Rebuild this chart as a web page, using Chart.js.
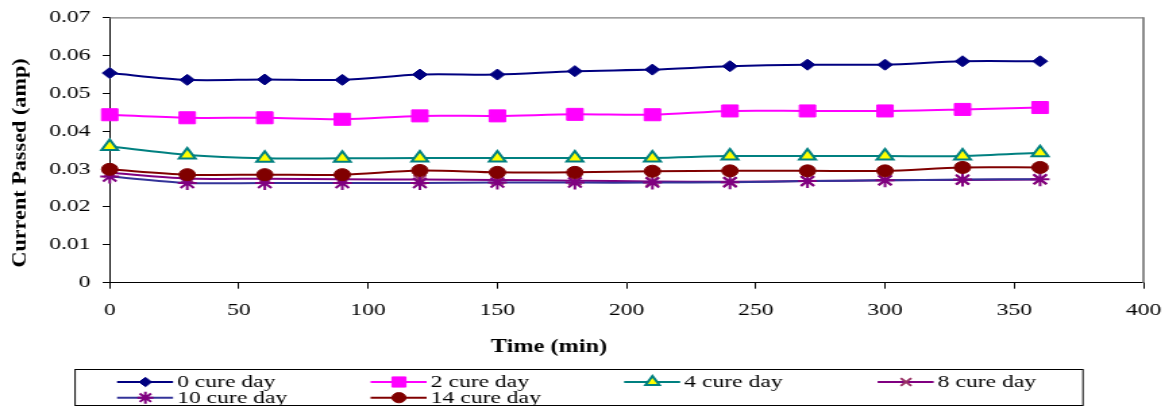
<!DOCTYPE html>
<html>
<head>
<meta charset="utf-8">
<script src="https://cdn.jsdelivr.net/npm/chart.js@4/dist/chart.umd.min.js"></script>
<style>
  html, body { margin: 0; padding: 0; background: #fff; overflow: hidden; }
  #wrap { width: 866px; height: 410px; transform: scaleX(1.35); transform-origin: 0 0; }
  #c { display: block; width: 866px; height: 410px; }
</style>
</head>
<body>
<div id="wrap"><canvas id="c" width="866" height="410"></canvas></div>
<script>
// ---- data ----
const times = [0, 30, 60, 90, 120, 150, 180, 210, 240, 270, 300, 330, 360];
const seriesLabels = ['0 cure day', '2 cure day', '4 cure day', '8 cure day', '10 cure day', '14 cure day'];
const day0  = [0.0553, 0.0535, 0.0536, 0.0535, 0.0549, 0.0549, 0.0558, 0.0562, 0.0571, 0.0575, 0.0575, 0.0584, 0.0584];
const day2  = [0.0443, 0.0435, 0.0435, 0.0431, 0.0440, 0.0440, 0.0444, 0.0443, 0.0453, 0.0453, 0.0453, 0.0457, 0.0462];
const day4  = [0.0359, 0.0337, 0.0328, 0.0328, 0.0329, 0.0329, 0.0329, 0.0329, 0.0334, 0.0334, 0.0334, 0.0334, 0.0343];
const day8  = [0.0290, 0.0275, 0.0274, 0.0273, 0.0272, 0.0271, 0.0269, 0.0267, 0.0266, 0.0268, 0.0270, 0.0271, 0.0272];
const day10 = [0.0280, 0.0263, 0.0263, 0.0263, 0.0263, 0.0264, 0.0264, 0.0264, 0.0265, 0.0268, 0.0270, 0.0272, 0.0273];
const day14 = [0.0299, 0.0285, 0.0285, 0.0285, 0.0296, 0.0291, 0.0291, 0.0294, 0.0295, 0.0295, 0.0295, 0.0304, 0.0304];
const xTickValues = [0, 50, 100, 150, 200, 250, 300, 350, 400];
const yTickValues = [0, 0.01, 0.02, 0.03, 0.04, 0.05, 0.06, 0.07];
const xTitle = 'Time (min)';
const yTitle = 'Current Passed (amp)';

const allSeries = [day0, day2, day4, day8, day10, day14];
const styles = [
  { line: '#000080', style: 'rectRot',  r: 5.5, bg: '#000080', bc: '#000080', bw: 1 },
  { line: '#FF00FF', style: 'rect',     r: 8.5, bg: '#FF00FF', bc: '#FF00FF', bw: 1 },
  { line: '#008080', style: 'triangle', r: 7,   bg: '#FFFF00', bc: '#008080', bw: 2 },
  { line: '#800080', style: 'crossRot', r: 6.5, bg: '#800080', bc: '#993366', bw: 2 },
  { line: '#333399', style: 'star',     r: 7,   bg: '#800080', bc: '#800080', bw: 2 },
  { line: '#800000', style: 'circle',   r: 6,   bg: '#800000', bc: '#800000', bw: 1 }
];

const datasets = allSeries.map((vals, i) => ({
  label: seriesLabels[i],
  data: times.map((t, k) => ({ x: t, y: vals[k] })),
  borderColor: styles[i].line,
  borderWidth: 2,
  backgroundColor: styles[i].bg,
  pointStyle: styles[i].style,
  pointRadius: styles[i].r,
  pointHoverRadius: styles[i].r,
  pointBackgroundColor: styles[i].bg,
  pointBorderColor: styles[i].bc,
  pointBorderWidth: styles[i].bw,
  tension: 0.3,
  fill: false,
  clip: false,
  order: -i
}));

const FONT = '"Liberation Serif", "Times New Roman", serif';

const framePlugin = {
  id: 'frame',
  beforeDatasetsDraw(chart) {
    const { ctx, chartArea: a } = chart;
    ctx.save();
    ctx.strokeStyle = '#808080';
    ctx.lineWidth = 1.2;
    ctx.beginPath();
    ctx.moveTo(a.left, a.top + 0.5);
    ctx.lineTo(a.right, a.top + 0.5);
    ctx.stroke();
    ctx.lineWidth = 1.8;
    ctx.beginPath();
    ctx.moveTo(a.right, a.top);
    ctx.lineTo(a.right, a.bottom);
    ctx.stroke();
    ctx.restore();
  }
};

const titlesPlugin = {
  id: 'axisTitles',
  afterDraw(chart) {
    const ctx = chart.ctx;
    ctx.save();
    ctx.fillStyle = '#000';
    ctx.font = 'bold 18px ' + FONT;
    ctx.textAlign = 'center';
    ctx.textBaseline = 'middle';
    ctx.fillText(xTitle, 406.7, 347);
    ctx.restore();

    ctx.save();
    ctx.fillStyle = '#000';
    ctx.translate(15.4, 163);
    ctx.rotate(-Math.PI / 2);
    ctx.scale(1.48, 1);
    ctx.font = 'bold 15px ' + FONT;
    ctx.textAlign = 'center';
    ctx.textBaseline = 'middle';
    ctx.fillText(yTitle, 0, 0);
    ctx.restore();
  }
};

const legendPlugin = {
  id: 'boxLegend',
  afterDraw(chart) {
    const ctx = chart.ctx;
    const box = { l: 55.6, t: 369, r: 802.2, b: 405 };
    ctx.save();
    ctx.strokeStyle = '#000';
    ctx.lineWidth = 1;
    ctx.strokeRect(box.l, box.t + 0.5, box.r - box.l, box.b - box.t);
    ctx.beginPath();
    ctx.rect(box.l, box.t, box.r - box.l, box.b - box.t);
    ctx.clip();
    chart.data.datasets.forEach((ds, i) => {
      const col = i % 4, row = Math.floor(i / 4);
      const x0 = 86.7 + col * 187.8;
      const ly = row === 0 ? 382 : 397.7;
      ctx.strokeStyle = ds.borderColor;
      ctx.lineWidth = 2;
      ctx.beginPath();
      ctx.moveTo(x0, ly);
      ctx.lineTo(x0 + 41.5, ly);
      ctx.stroke();
      ctx.fillStyle = ds.pointBackgroundColor;
      ctx.strokeStyle = ds.pointBorderColor;
      ctx.lineWidth = ds.pointBorderWidth;
      Chart.helpers.drawPoint(ctx, {
        pointStyle: ds.pointStyle, rotation: 0,
        radius: ds.pointRadius * 0.85, borderWidth: ds.pointBorderWidth
      }, x0 + 21, ly);
      ctx.fillStyle = '#000';
      ctx.font = '17.5px ' + FONT;
      ctx.textAlign = 'left';
      ctx.textBaseline = 'alphabetic';
      ctx.fillText(ds.label, x0 + 44.5, ly + 4.8);
    });
    ctx.restore();
  }
};

new Chart(document.getElementById('c'), {
  type: 'line',
  data: { datasets },
  options: {
    responsive: false,
    devicePixelRatio: 1,
    animation: false,
    layout: { padding: { top: 17.3, right: 19, left: 0, bottom: 0 } },
    plugins: { legend: { display: false }, tooltip: { enabled: false }, title: { display: false } },
    scales: {
      x: {
        type: 'linear',
        min: 0, max: 400,
        afterBuildTicks(scale) { scale.ticks = xTickValues.map(v => ({ value: v })); },
        afterFit(scale) { scale.height = 127.3; scale.paddingLeft = 0; scale.paddingRight = 0; },
        ticks: {
          color: '#000', font: { family: FONT, size: 17.5 }, padding: 11,
          maxRotation: 0, autoSkip: false,
          callback: v => String(v)
        },
        grid: { display: true, drawOnChartArea: false, drawTicks: true, tickLength: 6, tickColor: '#000', color: '#000' },
        border: { display: true, color: '#000', width: 1 }
      },
      y: {
        type: 'linear',
        min: 0, max: 0.07,
        afterBuildTicks(scale) { scale.ticks = yTickValues.map(v => ({ value: v })); },
        afterFit(scale) { scale.width = 81.26; scale.paddingTop = 0; scale.paddingBottom = 0; },
        ticks: {
          color: '#000', font: { family: FONT, size: 17.5 }, padding: 9,
          autoSkip: false,
          callback: v => (v === 0 ? '0' : v.toFixed(2))
        },
        grid: { display: true, drawOnChartArea: false, drawTicks: true, tickLength: 5.2, tickColor: '#000', color: '#000' },
        border: { display: true, color: '#000', width: 1 }
      }
    }
  },
  plugins: [framePlugin, titlesPlugin, legendPlugin]
});
</script>
</body>
</html>
